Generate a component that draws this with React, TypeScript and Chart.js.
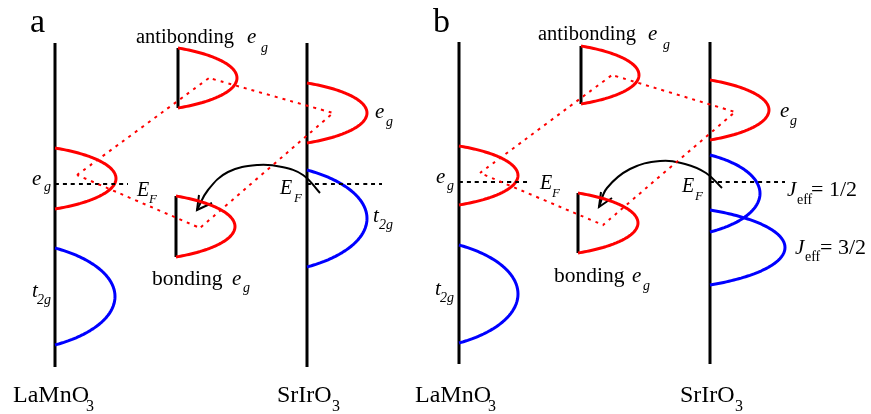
import React, { useEffect, useRef } from "react";
import { Chart, registerables } from "chart.js";
Chart.register(...registerables);

const WIDTH = 871;
const HEIGHT = 414;

// Vertical material axes: [x, yTop, yBottom]
const materialAxes: number[][] = [
  [55, 43, 367],
  [307, 43, 367],
  [459, 42, 364],
  [710, 42, 364],
];

// Base lines of the bonding / antibonding brackets: [x, yTop, yBottom]
const bracketBases: number[][] = [
  [178, 48, 108],
  [176, 196, 257],
  [581, 46, 104],
  [578, 193, 253],
];

// e_g density-of-states lobes (red): [baseX, yTop, yBottom, xMax]
const egLobes: number[][] = [
  [178, 48, 108, 237],
  [307, 83, 143, 367],
  [55, 148, 209, 116],
  [176, 196, 257, 235],
  [581, 46, 104, 639],
  [710, 80, 140, 769],
  [459, 146, 205, 518],
  [578, 193, 253, 638],
];

// t2g / J_eff lobes (blue): [baseX, yTop, yBottom, xMax]
const t2gLobes: number[][] = [
  [307, 170, 267, 367],
  [55, 248, 345, 115],
  [710, 155, 232, 760],
  [710, 210, 285, 785],
  [459, 245, 343, 518],
];

// Hybridisation paths (red dotted)
const hybridPaths: number[][][] = [
  [[77, 175], [209, 78], [333, 113], [200, 228], [77, 175]],
  [[480, 173], [612, 75], [735, 112], [603, 225], [480, 173]],
];

// Fermi levels (black dotted): [x0, x1, y]
const fermiLevels: number[][] = [
  [55, 128, 184],
  [307, 382, 184],
  [459, 530, 182],
  [710, 785, 182],
];

// Charge-transfer arrows (curved)
const arrowPaths: number[][][] = [
  [[320, 193], [303, 175], [282, 167], [258, 165], [228, 172], [208, 190], [197, 210]],
  [[722, 188], [706, 173], [685, 164], [660, 161], [630, 169], [607, 188], [599, 207]],
];
const arrowHeads: number[][][] = [
  [[199, 195], [197, 210], [212, 203]],
  [[601, 192], [599, 207], [612, 198]],
];

// Text pieces: [text, x, baseline, size, italic]
const textLabels: [string, number, number, number, number][] = [
  ["a", 30, 32, 34, 0],
  ["antibonding", 136, 43, 20.5, 0],
  ["e", 247, 43, 21, 1],
  ["g", 261, 52, 14, 1],
  ["e", 32, 185, 21, 1],
  ["g", 44, 191, 14, 1],
  ["E", 137, 196, 20, 1],
  ["F", 149, 203, 13, 1],
  ["E", 280, 194, 20, 1],
  ["F", 294, 202, 13, 1],
  ["e", 375, 118, 21, 1],
  ["g", 386, 126, 14, 1],
  ["t", 32, 297, 21, 1],
  ["2g", 37, 304, 14, 1],
  ["t", 373, 222, 21, 1],
  ["2g", 379, 229, 14, 1],
  ["bonding", 152, 285, 21.5, 0],
  ["e", 232, 285, 21, 1],
  ["g", 243, 292, 14, 1],
  ["LaMnO", 13, 402, 24, 0],
  ["3", 86, 411, 16, 0],
  ["SrIrO", 277, 402, 24, 0],
  ["3", 332, 411, 16, 0],

  ["b", 433, 32, 34, 0],
  ["antibonding", 538, 40, 20.5, 0],
  ["e", 648, 40, 21, 1],
  ["g", 663, 49, 14, 1],
  ["e", 436, 183, 21, 1],
  ["g", 447, 190, 14, 1],
  ["E", 540, 189, 20, 1],
  ["F", 552, 197, 13, 1],
  ["E", 682, 192, 20, 1],
  ["F", 695, 200, 13, 1],
  ["e", 780, 117, 21, 1],
  ["g", 790, 125, 14, 1],
  ["J", 787, 196, 21, 1],
  ["eff", 797, 204, 14, 0],
  ["= 1/2", 811, 196, 22, 0],
  ["J", 795, 254, 21, 1],
  ["eff", 805, 261, 14, 0],
  ["= 3/2", 820, 254, 22, 0],
  ["t", 435, 295, 21, 1],
  ["2g", 440, 302, 14, 1],
  ["bonding", 554, 282, 21.5, 0],
  ["e", 632, 282, 21, 1],
  ["g", 643, 290, 14, 1],
  ["LaMnO", 415, 402, 24, 0],
  ["3", 488, 411, 16, 0],
  ["SrIrO", 680, 402, 24, 0],
  ["3", 735, 411, 16, 0],
];

const LOBE_ANGLE = (60 * Math.PI) / 180;
const LOBE_STEPS = 48;
const RED = "#ff0000";
const BLUE = "#0000ff";
const FONT = '"Liberation Serif", "DejaVu Serif", serif';

function lobePoints(l: number[]) {
  const [bx, top, bot, xm] = l;
  const yc = (top + bot) / 2;
  const ry = (bot - top) / 2;
  const r = xm - bx;
  const c = Math.cos(LOBE_ANGLE);
  const s = Math.sin(LOBE_ANGLE);
  const pts: { x: number; y: number }[] = [];
  for (let i = 0; i <= LOBE_STEPS; i++) {
    const t = -LOBE_ANGLE + (2 * LOBE_ANGLE * i) / LOBE_STEPS;
    pts.push({ x: bx + (r * (Math.cos(t) - c)) / (1 - c), y: yc + (ry * Math.sin(t)) / s });
  }
  return pts;
}

const toPts = (arr: number[][]) => arr.map(([x, y]) => ({ x, y }));

function line(data: { x: number; y: number }[], color: string, width: number, extra: any = {}) {
  return {
    data,
    showLine: true,
    borderColor: color,
    backgroundColor: color,
    borderWidth: width,
    pointRadius: 0,
    fill: false,
    clip: false,
    tension: 0.0001,
    borderJoinStyle: "round",
    ...extra,
  };
}

const textPlugin = {
  id: "textPieces",
  afterDatasetsDraw(chart: any) {
    const ctx = chart.ctx;
    const xs = chart.scales.x;
    const ys = chart.scales.y;
    ctx.save();
    ctx.fillStyle = "#000";
    ctx.textAlign = "left";
    ctx.textBaseline = "alphabetic";
    for (const [t, x, y, size, it] of textLabels) {
      ctx.font = `${it ? "italic " : ""}${size}px ${FONT}`;
      ctx.fillText(t, xs.getPixelForValue(x), ys.getPixelForValue(y));
    }
    ctx.restore();
  },
};

export default function App() {
  const ref = useRef<HTMLCanvasElement | null>(null);
  useEffect(() => {
    document.body.style.margin = "0";
    const datasets: any[] = [];
    hybridPaths.forEach((p) => datasets.push(line(toPts(p), RED, 2, { borderDash: [3, 5], borderJoinStyle: "miter" })));
    fermiLevels.forEach(([x0, x1, y]) =>
      datasets.push(line([{ x: x0, y }, { x: x1, y }], "#000", 2, { borderDash: [4, 4] }))
    );
    egLobes.forEach((l) => datasets.push(line(lobePoints(l), RED, 3)));
    t2gLobes.forEach((l) => datasets.push(line(lobePoints(l), BLUE, 3)));
    materialAxes.forEach(([x, a, b]) => datasets.push(line([{ x, y: a }, { x, y: b }], "#000", 3)));
    bracketBases.forEach(([x, a, b]) => datasets.push(line([{ x, y: a }, { x, y: b }], "#000", 3)));
    arrowPaths.forEach((p) => datasets.push(line(toPts(p), "#000", 2, { tension: 0.4 })));
    arrowHeads.forEach((p) => datasets.push(line(toPts(p), "#000", 2, { borderJoinStyle: "miter" })));

    const chart = new Chart(ref.current as HTMLCanvasElement, {
      type: "scatter",
      data: { datasets },
      options: {
        animation: false,
        responsive: false,
        maintainAspectRatio: false,
        layout: { padding: 0 },
        plugins: { legend: { display: false }, tooltip: { enabled: false } },
        events: [],
        scales: {
          x: { type: "linear", min: 0, max: WIDTH, display: false },
          y: { type: "linear", min: 0, max: HEIGHT, reverse: true, display: false },
        },
      },
      plugins: [textPlugin],
    } as any);
    return () => chart.destroy();
  }, []);
  return (
    <div style={{ position: "absolute", left: 0, top: 0, width: WIDTH, height: HEIGHT, background: "#fff" }}>
      <canvas ref={ref} width={WIDTH} height={HEIGHT} style={{ display: "block" }} />
    </div>
  );
}
